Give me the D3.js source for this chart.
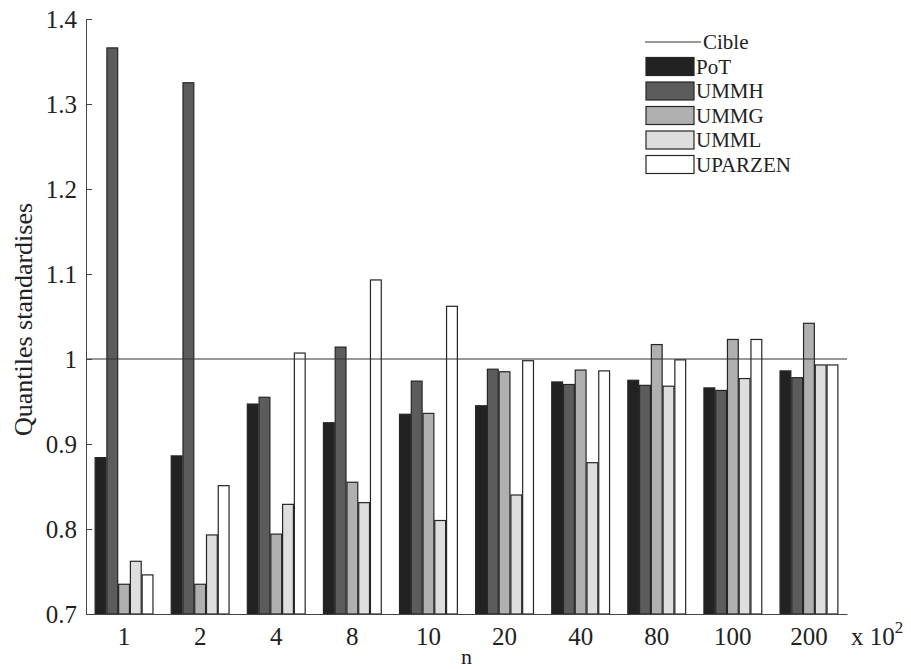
<!DOCTYPE html>
<html>
<head>
<meta charset="utf-8">
<script src="https://cdn.jsdelivr.net/npm/d3@7"></script>
<style>
  body { margin: 0; background: #fff; }
  text { font-family: "Liberation Serif", "DejaVu Serif", serif; fill: #222; }
</style>
</head>
<body>
<svg id="chart" width="911" height="669"></svg>
<script>
// categories (n, x 10^2)
var categories = ["1", "2", "4", "8", "10", "20", "40", "80", "100", "200"];
var seriesNames = ["PoT", "UMMH", "UMMG", "UMML", "UPARZEN"];
var potValues     = [0.884, 0.886, 0.947, 0.925, 0.935, 0.945, 0.973, 0.975, 0.966, 0.986];
var ummhValues    = [1.366, 1.325, 0.955, 1.014, 0.974, 0.988, 0.970, 0.969, 0.963, 0.978];
var ummgValues    = [0.735, 0.735, 0.794, 0.855, 0.936, 0.985, 0.987, 1.017, 1.023, 1.042];
var ummlValues    = [0.762, 0.793, 0.829, 0.831, 0.810, 0.840, 0.878, 0.968, 0.977, 0.993];
var uparzenValues = [0.746, 0.851, 1.007, 1.093, 1.062, 0.998, 0.986, 0.999, 1.023, 0.993];
var target = 1;
var yTicks = [0.7, 0.8, 0.9, 1, 1.1, 1.2, 1.3, 1.4];

var seriesValues = [potValues, ummhValues, ummgValues, ummlValues, uparzenValues];
var colors = ["#222222", "#5c5c5c", "#b0b0b0", "#dedede", "#ffffff"];

var svg = d3.select("#chart");
var plotLeft = 86, plotRight = 847, plotTop = 19, plotBottom = 614;

var xScale = d3.scaleBand()
    .domain(categories)
    .range([plotLeft, plotRight])
    .padding(0);

var inner = d3.scaleBand()
    .domain(seriesNames)
    .range([0, xScale.bandwidth() * 0.76])
    .paddingInner(0.08);

var yScale = d3.scaleLinear()
    .domain([0.7, 1.4])
    .range([plotBottom, plotTop]);

// bars
var rows = [];
categories.forEach(function (c, i) {
    seriesNames.forEach(function (s, j) {
        rows.push({cat: c, series: s, idx: j, value: seriesValues[j][i]});
    });
});

var groupOffset = xScale.bandwidth() * 0.12;

svg.append("g").selectAll("rect")
    .data(rows)
    .enter()
    .append("rect")
    .attr("x", function (d) { return xScale(d.cat) + groupOffset + inner(d.series); })
    .attr("y", function (d) { return yScale(d.value); })
    .attr("width", inner.bandwidth())
    .attr("height", function (d) { return yScale(0.7) - yScale(d.value); })
    .attr("fill", function (d) { return colors[d.idx]; })
    .attr("stroke", "#262626")
    .attr("stroke-width", 1.2);

// target line
svg.append("line")
    .attr("x1", plotLeft)
    .attr("x2", plotRight)
    .attr("y1", yScale(target))
    .attr("y2", yScale(target))
    .attr("stroke", "#333")
    .attr("stroke-width", 1);

// axes
var yAxis = d3.axisLeft(yScale)
    .tickValues(yTicks)
    .tickSizeInner(-6)
    .tickSizeOuter(0)
    .tickPadding(9)
    .tickFormat(function (d) { return d3.format("")(+d.toFixed(1)); });

var gy = svg.append("g")
    .attr("transform", "translate(" + plotLeft + ",0)")
    .call(yAxis);
gy.selectAll("text").style("font-size", "25px").attr("fill", "#222");
gy.selectAll("line, path").attr("stroke", "#444");

var xAxis = d3.axisBottom(xScale)
    .tickSizeInner(0)
    .tickSizeOuter(0)
    .tickPadding(13);

var gx = svg.append("g")
    .attr("transform", "translate(0," + plotBottom + ")")
    .call(xAxis);
gx.selectAll("text").style("font-size", "25px").attr("fill", "#222");
gx.selectAll("path").attr("stroke", "#444");

// axis labels
svg.append("text")
    .attr("transform", "translate(32," + ((plotTop + plotBottom) / 2 + 3) + ") rotate(-90)")
    .attr("text-anchor", "middle")
    .style("font-size", "26px")
    .text("Quantiles standardises");

svg.append("text")
    .attr("x", (plotLeft + plotRight) / 2)
    .attr("y", 664)
    .attr("text-anchor", "middle")
    .style("font-size", "22px")
    .text("n");

var sc = svg.append("text")
    .attr("x", 851)
    .attr("y", 645)
    .style("font-size", "25px")
    .text("x 10");
sc.append("tspan")
    .attr("dy", -12)
    .style("font-size", "17px")
    .text("2");

// legend
var legend = svg.append("g").attr("transform", "translate(645,32)");
var legendItems = ["Cible"].concat(seriesNames);
var rowH = 24.5;

legendItems.forEach(function (name, i) {
    var y = i * rowH;
    if (i === 0) {
        legend.append("line")
            .attr("x1", 0).attr("x2", 56)
            .attr("y1", y + 10).attr("y2", y + 10)
            .attr("stroke", "#333");
    } else {
        legend.append("rect")
            .attr("x", 1).attr("y", y + 1)
            .attr("width", 48).attr("height", 18)
            .attr("fill", colors[i - 1])
            .attr("stroke", "#262626")
            .attr("stroke-width", 1.2);
    }
    legend.append("text")
        .attr("x", i === 0 ? 58 : 51)
        .attr("y", y + 17)
        .style("font-size", "21px")
        .text(name);
});
</script>
</body>
</html>
